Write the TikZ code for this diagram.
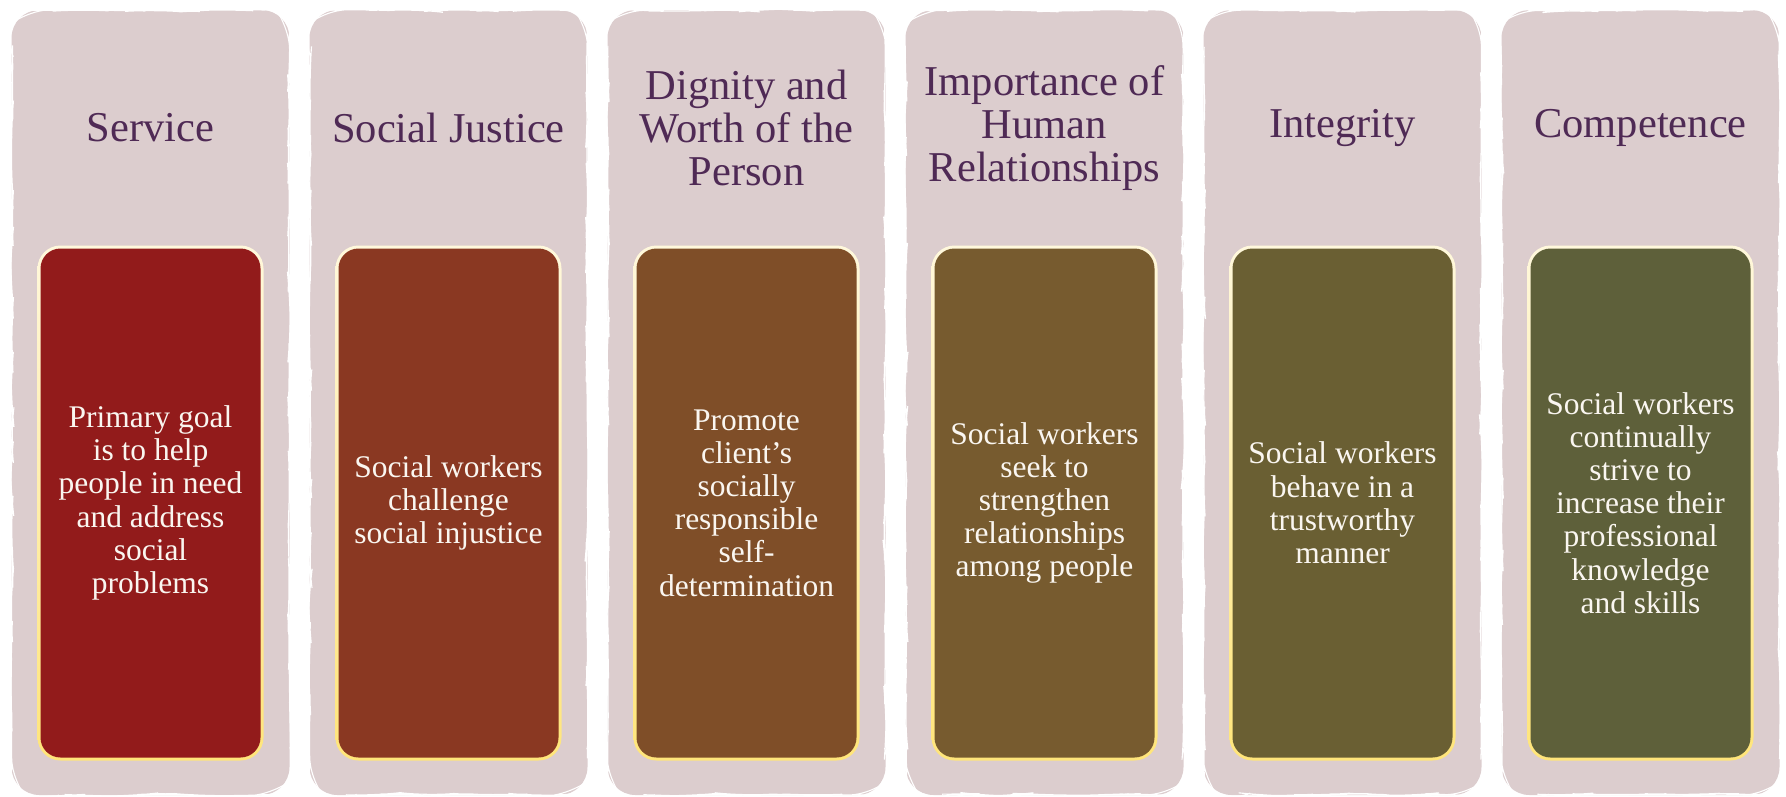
\documentclass[tikz,border=0pt]{standalone}
\usepackage{fontspec}
\setmainfont{Liberation Serif}
\usetikzlibrary{decorations.pathmorphing}
\definecolor{panelbg}{HTML}{DCCDCE}
\definecolor{titlec}{HTML}{4F2A55}
\definecolor{bodyc}{HTML}{FAF6F0}
\definecolor{creamc}{HTML}{FFF8DC}
\definecolor{yellowc}{HTML}{FFE57A}
\definecolor{cA}{HTML}{921B1B}
\definecolor{cB}{HTML}{8A3822}
\definecolor{cC}{HTML}{7F4E28}
\definecolor{cD}{HTML}{775B2F}
\definecolor{cE}{HTML}{6A5F33}
\definecolor{cF}{HTML}{5E603A}
\begin{document}
\begin{tikzpicture}[x=1pt,y=-1pt,
  panel/.style={fill=panelbg, draw=none, rounded corners=28pt,
    minimum width=278pt, minimum height=785pt, inner sep=0pt,
    postaction={draw=white, line width=1.1pt, decorate,
      decoration={random steps, segment length=18pt, amplitude=1.3pt}}},
  frame/.style={top color=creamc, bottom color=yellowc, draw=none, rounded corners=23pt,
    minimum width=226pt, minimum height=515pt, inner sep=0pt},
  inbox/.style={draw=none, rounded corners=20pt, minimum width=220pt, minimum height=509pt,
    inner sep=0pt, text=bodyc, align=center,
    font=\fontsize{31.5}{33.2}\selectfont},
  title/.style={text=titlec, align=center, inner sep=0pt,
    font=\fontsize{42.5}{43}\selectfont}]
\pgfmathsetseed{7}
\useasboundingbox (0,0) rectangle (1786,796);
% panels
\node[panel] (p1) at (150.5,402.5) {};
\node[panel] (p2) at (448.5,402.5) {};
\node[panel] (p3) at (746.5,402.5) {};
\node[panel] (p4) at (1044.5,402.5) {};
\node[panel] (p5) at (1342.5,402.5) {};
\node[panel] (p6) at (1640.5,402.5) {};
% titles
\node[title] (t1) at (150.5,128) {Service};
\node[title] (t2) at (448.5,128) {Social Justice};
\node[title] (t3) at (746.5,128) {Dignity and\\Worth of the\\Person};
\node[title] (t4) at (1044.5,128) {Importance of\\Human\\Relationships};
\node[title] (t5) at (1342.5,128) {Integrity};
\node[title] (t6) at (1640.5,128) {Competence};
% frames
\node[frame] (f1) at (150.5,503) {};
\node[frame] (f2) at (448.5,503) {};
\node[frame] (f3) at (746.5,503) {};
\node[frame] (f4) at (1044.5,503) {};
\node[frame] (f5) at (1342.5,503) {};
\node[frame] (f6) at (1640.5,503) {};
% inner boxes
\node[inbox, fill=cA] (b1) at (f1) {Primary goal\\is to help\\people in need\\and address\\social\\problems};
\node[inbox, fill=cB] (b2) at (f2) {Social workers\\challenge\\social injustice};
\node[inbox, fill=cC] (b3) at (f3) {Promote\\client’s\\socially\\responsible\\self-\\determination};
\node[inbox, fill=cD] (b4) at (f4) {Social workers\\seek to\\strengthen\\relationships\\among people};
\node[inbox, fill=cE] (b5) at (f5) {Social workers\\behave in a\\trustworthy\\manner};
\node[inbox, fill=cF] (b6) at (f6) {Social workers\\continually\\strive to\\increase their\\professional\\knowledge\\and skills};
\end{tikzpicture}
\end{document}
